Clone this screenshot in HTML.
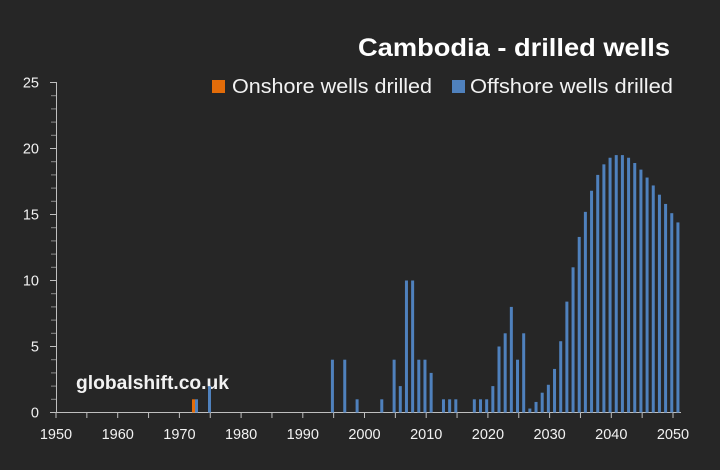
<!DOCTYPE html>
<html><head><meta charset="utf-8"><style>
html,body{margin:0;padding:0;background:#262626;}
svg{display:block;font-family:"Liberation Sans",sans-serif;}
</style></head><body>
<svg id="c" width="720" height="470" xmlns="http://www.w3.org/2000/svg">
<rect width="720" height="470" fill="#262626"/>
<text x="358" y="56" textLength="312" lengthAdjust="spacingAndGlyphs" font-size="25" font-weight="bold" fill="#ffffff">Cambodia - drilled wells</text>
<rect x="212" y="80" width="13" height="13" fill="#e36c09"/>
<text x="232" y="93" textLength="200" lengthAdjust="spacingAndGlyphs" font-size="20" fill="#f2f2f2">Onshore wells drilled</text>
<rect x="452" y="80" width="13" height="13" fill="#4f81bd"/>
<text x="470" y="93" textLength="203" lengthAdjust="spacingAndGlyphs" font-size="20" fill="#f2f2f2">Offshore wells drilled</text>
<text x="76" y="389" textLength="153" lengthAdjust="spacingAndGlyphs" font-size="19" font-weight="bold" fill="#f2f2f2">globalshift.co.uk</text>
<g id="ax" stroke="#bfbfbf" stroke-width="1"></g>
<g id="bars"></g>
<g id="lbl" font-size="14.5" fill="#f2f2f2"></g>
</svg>
<script>
var NS="http://www.w3.org/2000/svg";
function el(p,t,a,txt){var e=document.createElementNS(NS,t);for(var k in a)e.setAttribute(k,a[k]);if(txt!==undefined)e.textContent=txt;document.getElementById(p).appendChild(e);}
var y0=412.5,u=13.2,x0=56,py=6.17;
el('ax','line',{x1:56.5,y1:82,x2:56.5,y2:413});
el('ax','line',{x1:56,y1:412.5,x2:681,y2:412.5});
for(var i=0;i<=25;i++){var y=y0-i*u;el('ax','line',{x1:(i%5?51:50),y1:y,x2:56,y2:y,stroke:(i%5?'#8c8c8c':'#bfbfbf')});
 if(i%5==0)el('lbl','text',{x:39,y:y+5,'text-anchor':'end'},i);}
for(var yr=1950;yr<=2050;yr+=5){var x=x0+(yr-1950)*py;el('ax','line',{x1:x,y1:412,x2:x,y2:418});
 if(yr%10==0)el('lbl','text',{x:x,y:439,'text-anchor':'middle'},yr);}
var d={1994:4,1996:4,1998:1,2002:1,2004:4,2005:2,2006:10,2007:10,2008:4,2009:4,2010:3,2012:1,2013:1,2014:1,2017:1,2018:1,2019:1,2020:2,2021:5,2022:6,2023:8,2024:4,2025:6,2026:0.3,2027:0.8,2028:1.5,2029:2.1,2030:3.3,2031:5.4,2032:8.4,2033:11,2034:13.3,2035:15.2,2036:16.8,2037:18,2038:18.8,2039:19.3,2040:19.5,2041:19.5,2042:19.3,2043:18.9,2044:18.4,2045:17.8,2046:17.2,2047:16.5,2048:15.8,2049:15.1,2050:14.4};
for(var k in d){var x=x0+(k-1950+0.8)*py,h=d[k]*u;el('bars','rect',{x:x-1.5,y:y0-h,width:3,height:h,fill:'#4f81bd'});}
el('bars','rect',{x:192,y:y0-u,width:3,height:u,fill:'#e36c09'});
el('bars','rect',{x:195,y:y0-u,width:3,height:u,fill:'#4f81bd'});
el('bars','rect',{x:208,y:y0-2*u,width:3,height:2*u,fill:'#4f81bd'});
</script>
</body></html>
